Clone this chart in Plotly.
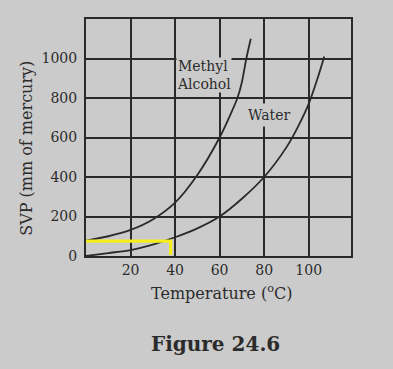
import plotly.graph_objects as go

# ---- data ----
methyl_temp = [0, 10, 20, 30, 40, 50, 60, 65, 68, 70, 72, 74]
methyl_svp = [78, 100, 132, 185, 270, 410, 600, 720, 800, 880, 1000, 1100]

water_temp = [0, 10, 20, 30, 40, 50, 60, 70, 80, 90, 95, 100, 104, 107]
water_svp = [0, 15, 30, 58, 95, 140, 200, 290, 400, 550, 650, 770, 900, 1010]

highlight_temp = [0, 38, 38]
highlight_svp = [75, 75, 5]

x_ticks = [20, 40, 60, 80, 100]
y_ticks = [0, 200, 400, 600, 800, 1000]

BG = "#cbcbcb"
INK = "#2a2a2a"
TXT = "#2b2b2b"
FONT = "DejaVu Serif"

fig = go.Figure()
fig.add_trace(go.Scatter(x=methyl_temp, y=methyl_svp, mode="lines",
                         line=dict(color=INK, width=1.8, shape="spline", smoothing=0.8),
                         name="Methyl Alcohol", showlegend=False, hoverinfo="skip"))
fig.add_trace(go.Scatter(x=water_temp, y=water_svp, mode="lines",
                         line=dict(color=INK, width=1.8, shape="spline", smoothing=0.8),
                         name="Water", showlegend=False, hoverinfo="skip"))
fig.add_trace(go.Scatter(x=highlight_temp, y=highlight_svp, mode="lines",
                         line=dict(color="#f4ee1c", width=3.2),
                         showlegend=False, hoverinfo="skip"))

axis_common = dict(showline=True, mirror=True, linecolor=INK, linewidth=2,
                   showgrid=True, gridcolor=INK, gridwidth=2, zeroline=False,
                   ticks="", tickfont=dict(family=FONT, size=14, color=TXT))

fig.update_xaxes(range=[0, 119], tickvals=x_ticks, ticktext=[str(v) for v in x_ticks],
                 **axis_common)
fig.update_yaxes(range=[0, 1200], tickvals=y_ticks, ticktext=[str(v) for v in y_ticks],
                 ticklabelstandoff=4, **axis_common)

fig.update_layout(
    width=393, height=369,
    margin=dict(l=86, r=42, t=19, b=113),
    paper_bgcolor=BG, plot_bgcolor=BG,
    font=dict(family=FONT, color=TXT),
    annotations=[
        dict(text="Methyl<br>Alcohol", x=40.6, y=914, xref="x", yref="y",
             xanchor="left", yanchor="middle", align="left", showarrow=False,
             font=dict(family=FONT, size=14, color=TXT),
             bgcolor=BG, borderpad=0),
        dict(text="Water", x=82.2, y=714, xref="x", yref="y",
             xanchor="center", yanchor="middle", showarrow=False,
             font=dict(family=FONT, size=14, color=TXT),
             bgcolor=BG, borderpad=3),
        dict(text="Temperature (<sup>o</sup>C)", x=0.51, y=-0.156, xref="paper", yref="paper",
             xanchor="center", yanchor="middle", showarrow=False,
             font=dict(family=FONT, size=16, color=TXT)),
        dict(text="SVP (mm of mercury)", x=-0.223, y=0.456, xref="paper", yref="paper",
             xanchor="center", yanchor="middle", showarrow=False, textangle=-90,
             font=dict(family=FONT, size=16, color=TXT)),
        dict(text="<b>Figure 24.6</b>", x=0.487, y=-0.371, xref="paper", yref="paper",
             xanchor="center", yanchor="middle", showarrow=False,
             font=dict(family=FONT, size=20, color=TXT)),
    ],
)

fig.write_html("out.html", config={"displayModeBar": False},
               post_script="document.body.style.margin='0';document.body.style.background='%s';" % BG)
